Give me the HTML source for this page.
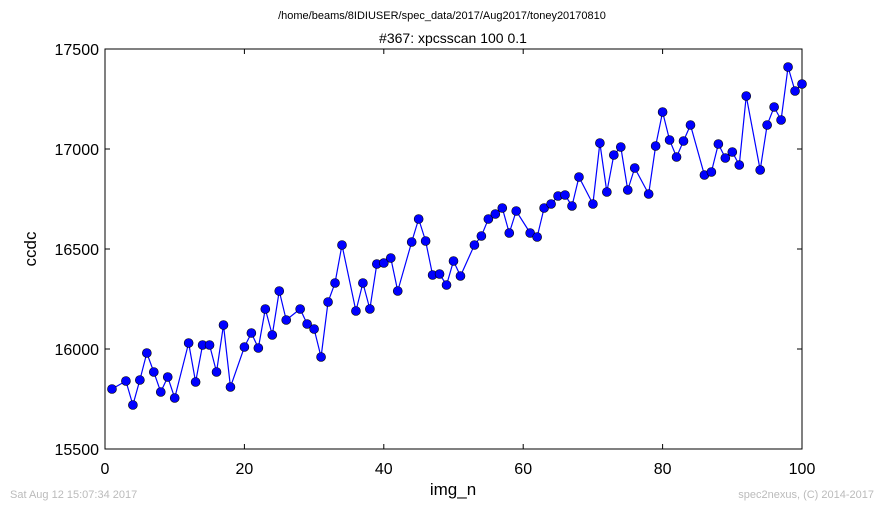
<!DOCTYPE html>
<html><head><meta charset="utf-8"><style>
body{margin:0;background:#fff;}
svg text{font-family:"Liberation Sans",sans-serif;}
</style></head><body>
<svg width="884" height="509">
<text x="442" y="19" font-size="11" text-anchor="middle">/home/beams/8IDIUSER/spec_data/2017/Aug2017/toney20170810</text>
<text x="453" y="43" font-size="14" text-anchor="middle">#367: xpcsscan 100 0.1</text>
<g id="plot"></g>
<text x="453" y="495" font-size="17" text-anchor="middle">img_n</text>
<text x="36" y="249" font-size="17" text-anchor="middle" transform="rotate(-90 36 249)">ccdc</text>
<text x="10" y="498" font-size="11" fill="#bbb">Sat Aug 12 15:07:34 2017</text>
<text x="874" y="498" font-size="11" fill="#bbb" text-anchor="end">spec2nexus, (C) 2014-2017</text>
</svg>
<script>
const xs=[1,3,4,5,6,7,8,9,10,12,13,14,15,16,17,18,20,21,22,23,24,25,26,28,29,30,31,32,33,34,36,37,38,39,40,41,42,44,45,46,47,48,49,50,51,53,54,55,56,57,58,59,61,62,63,64,65,66,67,68,70,71,72,73,74,75,76,78,79,80,81,82,83,84,86,87,88,89,90,91,92,94,95,96,97,98,99,100];
const ys=[15800,15840,15720,15845,15980,15885,15785,15860,15755,16030,15835,16020,16020,15885,16120,15810,16010,16080,16005,16200,16070,16290,16145,16200,16125,16100,15960,16235,16330,16520,16190,16330,16200,16425,16430,16455,16290,16535,16650,16540,16370,16375,16320,16440,16365,16520,16565,16650,16675,16705,16580,16690,16580,16560,16705,16725,16765,16770,16715,16860,16725,17030,16785,16970,17010,16795,16905,16775,17015,17185,17045,16960,17040,17120,16870,16885,17025,16955,16985,16920,17265,16895,17120,17210,17145,17410,17290,17325];
const xTicks=[0,20,40,60,80,100];
const yTicks=[15500,16000,16500,17000,17500];
const L=105,R=802,T=49,B=449;
const sx=v=>L+(v-0)/(100-0)*(R-L);
const sy=v=>B-(v-15500)/(17500-15500)*(B-T);
const NS="http://www.w3.org/2000/svg";
const g=document.getElementById('plot');
function mk(t,a){const e=document.createElementNS(NS,t);for(const k in a)e.setAttribute(k,a[k]);g.appendChild(e);return e;}
const fr=mk('rect',{x:L,y:T,width:R-L,height:B-T,fill:'#fff',stroke:'#000','stroke-width':1});


xTicks.forEach(v=>{const x=sx(v);
mk('line',{x1:x,x2:x,y1:B,y2:B-5,stroke:'#000'});mk('line',{x1:x,x2:x,y1:T,y2:T+5,stroke:'#000'});
const t=mk('text',{x:x,y:B+25,'font-size':16,'text-anchor':'middle'});t.textContent=v;

});
yTicks.forEach(v=>{const y=sy(v);
mk('line',{x1:L,x2:L+5,y1:y,y2:y,stroke:'#000'});mk('line',{x1:R,x2:R-5,y1:y,y2:y,stroke:'#000'});
const t=mk('text',{x:L-6,y:y+6,'font-size':16,'text-anchor':'end'});t.textContent=v;

});
const ln=mk('polyline',{points:xs.map((x,i)=>sx(x)+','+sy(ys[i])).join(' '),fill:'none',stroke:'#0000ff','stroke-width':1.2});


xs.forEach((x,i)=>{const c=mk('circle',{cx:sx(x),cy:sy(ys[i]),r:4.5,fill:'#0000ff',stroke:'#000','stroke-width':0.6});

});
</script>
</body></html>
